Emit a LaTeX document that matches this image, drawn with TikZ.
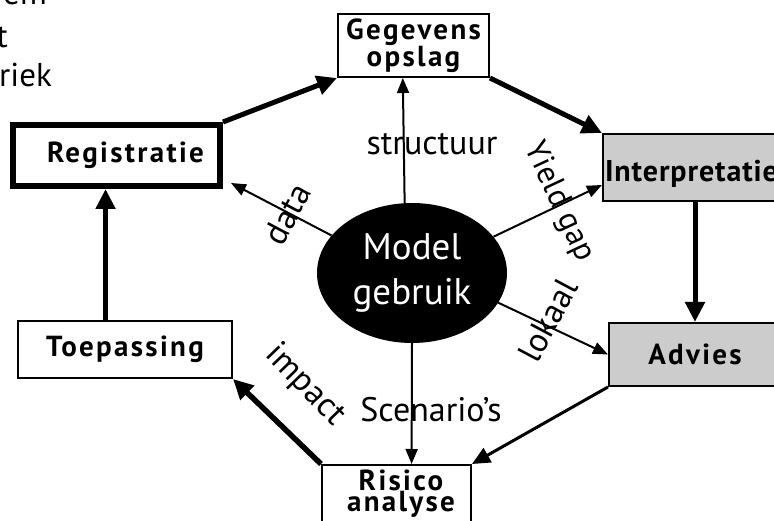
\documentclass[tikz,border=0pt]{standalone}
\usepackage{fontspec}
\setmainfont{PT Sans}
\newfontfamily\bx{PT Sans}[LetterSpace=8]
\newfontfamily\bxn{PT Sans}[LetterSpace=3]
\usetikzlibrary{arrows.meta,calc,shapes.geometric}
\tikzset{
  boxn/.style={draw, line width=2pt, inner sep=0pt, font=\bx\bfseries\fontsize{29}{25}\selectfont, align=center},
  greyfill/.style={fill=black!20},
  thick arrow/.style={line width=5pt, -{Triangle[length=20pt,width=19pt]}},
  mid arrow/.style={line width=3pt, -{Triangle[length=18pt,width=16pt]}},
  thin arrow/.style={line width=2pt, -{Triangle[length=15pt,width=12pt]}},
  lbl/.style={font=\fontsize{34}{40}\selectfont, inner sep=0pt},
  cornertext/.style={font=\fontsize{33}{40}\selectfont, inner sep=0pt},
}
\begin{document}
\begin{tikzpicture}[x=1pt,y=-1pt]
\useasboundingbox (0,0) rectangle (774,521);
% top-left cut text
\node[cornertext, anchor=base east] (t1) at (47,5) {em};
\node[cornertext, anchor=base east] (t2) at (8,48) {t};
\node[cornertext, anchor=base west] (t3) at (-1,87) {riek};
% boxes
\node[boxn, line width=6pt, minimum width=207pt, minimum height=61pt] (reg) at (116.5,155.5) {\hspace*{18pt}Registratie};
\node[boxn, minimum width=151pt, minimum height=63pt] (geg) at (413.5,45.5) {Gegevens\\opslag};
\node[boxn, greyfill, minimum width=184pt, minimum height=67pt] (int) at (695,167.5) {};
\node[boxn, draw=none, anchor=base west, font=\bxn\bfseries\fontsize{30}{25}\selectfont] (intt) at (604,182) {Interpretatie};
\node[boxn, greyfill, minimum width=172pt, minimum height=63pt] (adv) at (695,354.5) {Advies};
\node[boxn, minimum width=214pt, minimum height=57pt] (toe) at (125,349.5) {Toepassing};
\node[boxn, minimum width=149pt, minimum height=70pt] (ris) at (396.5,500) {};
\node[boxn, draw=none, font=\bx\bfseries\fontsize{29}{21}\selectfont] (rist) at (401,494) {Risico\\analyse};
% ellipse
\node[ellipse, fill=black, text=white, minimum width=190pt, minimum height=140pt, inner sep=0pt, align=center, font=\fontsize{37}{45}\selectfont] (mg) at (412,273) {Model\\gebruik};
% cycle arrows
\draw[thick arrow] (reg.north east) -- (geg.south west);
\draw[thick arrow] (geg.south east) -- (int.north west);
\draw[thick arrow] (int.south) -- (adv.north);
\draw[mid arrow] (adv.south west) -- (ris.north east);
\draw[thick arrow, line width=5.5pt] (ris.north west) -- (toe.south east);
\coordinate (ta) at ($(toe.north west)!0.41!(toe.north east)$);
\draw[thick arrow] (ta) -- (ta |- reg.south);
% spokes
\coordinate (gb) at ($(geg.south west)!0.43!(geg.south east)$);
\draw[thin arrow] (mg.96) -- (gb);
\coordinate (rt) at ($(ris.north west)!0.6!(ris.north east)$);
\draw[thin arrow] (mg.south) -- (rt);
\coordinate (de) at (231,183);
\draw[thin arrow] (mg.155) -- (de);
\coordinate (ye) at (602,185);
\draw[thin arrow] (mg.24) -- (ye);
\draw[thin arrow] (mg.-19) -- (adv.west);
% labels
\node[lbl, anchor=base] (ls) at (432,155) {structuur};
\node[lbl, anchor=base] (lsc) at (431,421) {Scenario’s};
\node[lbl, rotate=62] (ld) at (287,214) {data};
\node[lbl, rotate=-65, font=\fontsize{32}{40}\selectfont] (ly) at (559,202) {Yield gap};
\node[lbl, rotate=62] (ll) at (548,320) {lokaal};
\node[lbl, rotate=-46] (li) at (305,385) {impact};
\end{tikzpicture}
\end{document}
